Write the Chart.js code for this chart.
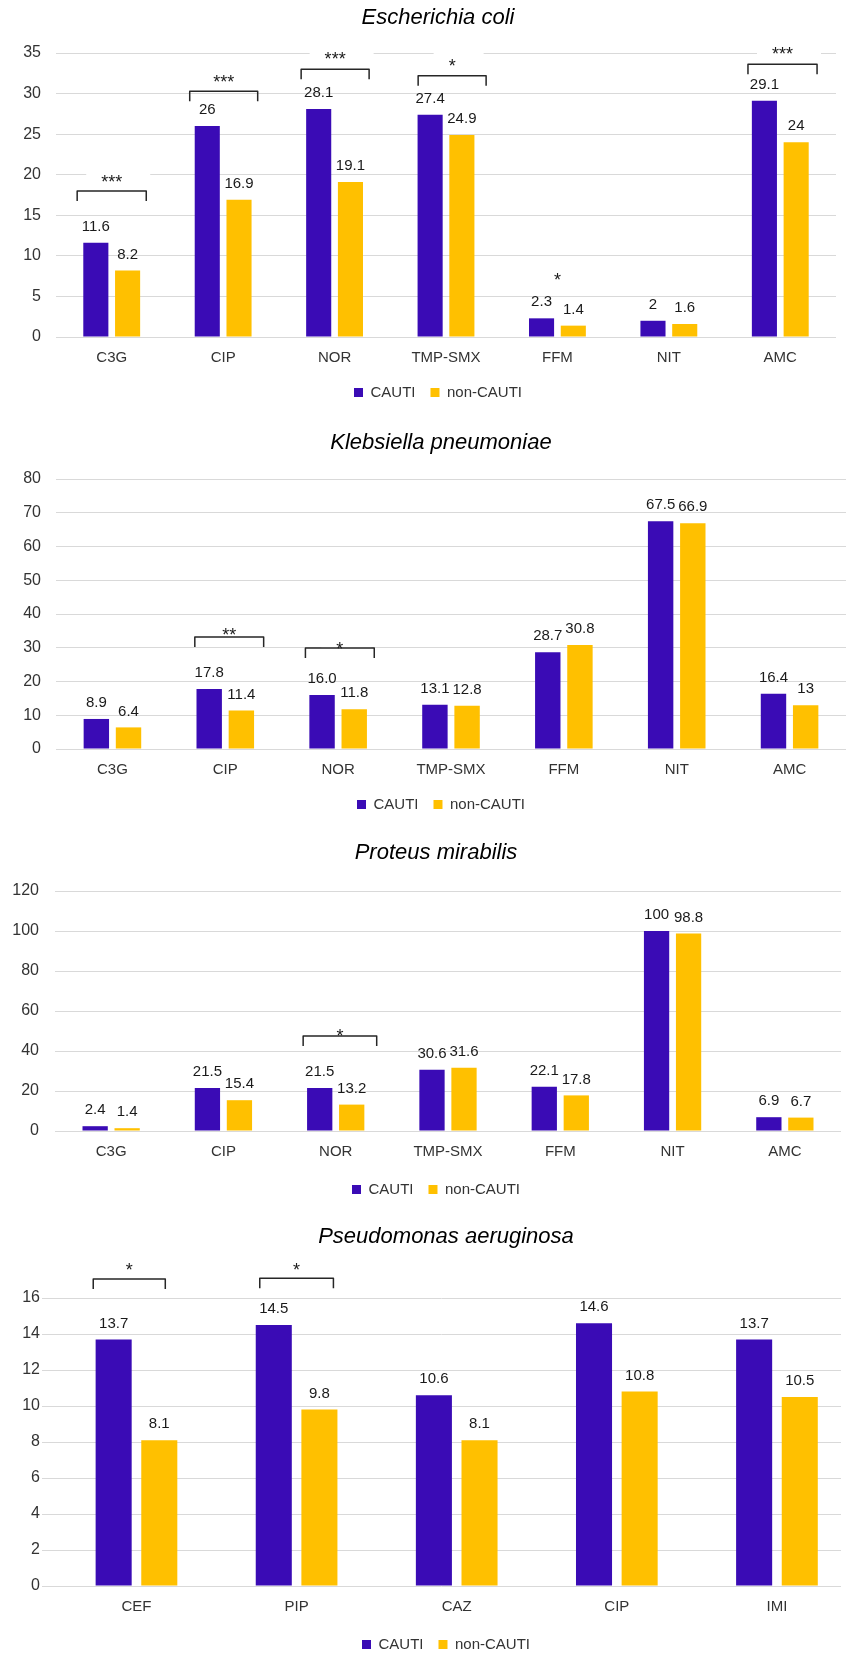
<!DOCTYPE html>
<html>
<head>
<meta charset="utf-8">
<script src="https://cdn.jsdelivr.net/npm/chart.js@4.4.1/dist/chart.umd.min.js"></script>
<style>
  html, body { margin: 0; padding: 0; background: #ffffff; overflow: hidden; width: 846px; height: 1655px; position: relative; }
</style>
</head>
<body>
<script>
const FONT = '"Liberation Sans", Arial, Helvetica, sans-serif';

const seriesNames = ['CAUTI', 'non-CAUTI'];
const seriesColors = ['#3a0bb5', '#ffc000'];

// ---- Escherichia coli ----
const ecTitle = 'Escherichia coli';
const ecCategories = ['C3G', 'CIP', 'NOR', 'TMP-SMX', 'FFM', 'NIT', 'AMC'];
const ecCauti = [11.6, 26, 28.1, 27.4, 2.3, 2, 29.1];
const ecNonCauti = [8.2, 16.9, 19.1, 24.9, 1.4, 1.6, 24];
const ecYTicks = [0, 5, 10, 15, 20, 25, 30, 35];
const ecSignificance = [
  { cat: 0, from: -0.31, to: 0.31, bracket: 18.0, star: 19.7, text: '***' },
  { cat: 1, from: -0.30, to: 0.31, bracket: 30.3, star: 32.0, text: '***' },
  { cat: 2, from: -0.30, to: 0.31, bracket: 33.0, star: 34.75, text: '***' },
  { cat: 3, from: -0.25, to: 0.36, bracket: 32.2, star: 33.9, text: '*' },
  { cat: 4, star: 7.6, text: '*' },
  { cat: 6, from: -0.29, to: 0.33, bracket: 33.6, star: 35.4, text: '***' }
];

// ---- Klebsiella pneumoniae ----
const kpTitle = 'Klebsiella pneumoniae';
const kpCategories = ['C3G', 'CIP', 'NOR', 'TMP-SMX', 'FFM', 'NIT', 'AMC'];
const kpCauti = [8.9, 17.8, 16.0, 13.1, 28.7, 67.5, 16.4];
const kpNonCauti = [6.4, 11.4, 11.8, 12.8, 30.8, 66.9, 13];
const kpYTicks = [0, 10, 20, 30, 40, 50, 60, 70, 80];
const kpSignificance = [
  { cat: 1, from: -0.27, to: 0.34, bracket: 33.2, star: 35.0, text: '**' },
  { cat: 2, from: -0.29, to: 0.32, bracket: 29.9, star: 30.8, text: '*' }
];

// ---- Proteus mirabilis ----
const pmTitle = 'Proteus mirabilis';
const pmCategories = ['C3G', 'CIP', 'NOR', 'TMP-SMX', 'FFM', 'NIT', 'AMC'];
const pmCauti = [2.4, 21.5, 21.5, 30.6, 22.1, 100, 6.9];
const pmNonCauti = [1.4, 15.4, 13.2, 31.6, 17.8, 98.8, 6.7];
const pmYTicks = [0, 20, 40, 60, 80, 100, 120];
const pmSignificance = [
  { cat: 2, from: -0.29, to: 0.365, bracket: 47.5, star: 49.75, text: '*' }
];

// ---- Pseudomonas aeruginosa ----
const paTitle = 'Pseudomonas aeruginosa';
const paCategories = ['CEF', 'PIP', 'CAZ', 'CIP', 'IMI'];
const paCauti = [13.7, 14.5, 10.6, 14.6, 13.7];
const paNonCauti = [8.1, 9.8, 8.1, 10.8, 10.5];
const paYTicks = [0, 2, 4, 6, 8, 10, 12, 14, 16];
const paSignificance = [
  { cat: 0, from: -0.27, to: 0.18, bracket: 17.06, star: 17.83, text: '*' },
  { cat: 1, from: -0.23, to: 0.23, bracket: 17.1, star: 17.83, text: '*' }
];

// ---------------------------------------------------------------
const STAR_FONT = 18;

function fmtValue(v, fmt) {
  return fmt === 'fixed1' ? v.toFixed(1) : String(v);
}

const valueLabelPlugin = {
  id: 'valueLabels',
  afterDatasetsDraw(chart) {
    const ctx = chart.ctx;
    ctx.save();
    ctx.font = '15px ' + FONT;
    ctx.fillStyle = '#1a1a1a';
    ctx.textAlign = 'center';
    ctx.textBaseline = 'middle';
    chart.data.datasets.forEach((ds, di) => {
      const meta = chart.getDatasetMeta(di);
      meta.data.forEach((bar, i) => {
        const v = ds.data[i].y;
        ctx.fillText(fmtValue(v, ds.valueFormat), bar.x, bar.y - 16);
      });
    });
    ctx.restore();
  }
};

function makeSigPlugin(items) {
  function starX(it, xs) {
    if (it.from !== undefined) {
      return (xs.getPixelForValue(it.cat + it.from) + xs.getPixelForValue(it.cat + it.to)) / 2;
    }
    return xs.getPixelForValue(it.cat);
  }
  return {
    id: 'significance',
    beforeDatasetsDraw(chart) {
      const { ctx, scales } = chart;
      ctx.save();
      ctx.font = STAR_FONT + 'px ' + FONT;
      ctx.fillStyle = '#ffffff';
      items.forEach(it => {
        const cx = starX(it, scales.x);
        const cy = scales.y.getPixelForValue(it.star);
        const w = ctx.measureText(it.text).width;
        ctx.fillRect(cx - w / 2 - 15, cy - 10, w + 43, 20);
      });
      ctx.restore();
    },
    afterDatasetsDraw(chart) {
      const { ctx, scales } = chart;
      ctx.save();
      ctx.strokeStyle = '#262626';
      ctx.lineWidth = 1.5;
      ctx.lineJoin = 'round';
      items.forEach(it => {
        if (it.from === undefined) return;
        const x1 = scales.x.getPixelForValue(it.cat + it.from);
        const x2 = scales.x.getPixelForValue(it.cat + it.to);
        const yb = scales.y.getPixelForValue(it.bracket);
        ctx.beginPath();
        ctx.moveTo(x1, yb + 10);
        ctx.lineTo(x1, yb);
        ctx.lineTo(x2, yb);
        ctx.lineTo(x2, yb + 10);
        ctx.stroke();
      });
      ctx.font = STAR_FONT + 'px ' + FONT;
      ctx.fillStyle = '#1a1a1a';
      ctx.textAlign = 'center';
      ctx.textBaseline = 'alphabetic';
      items.forEach(it => {
        const cx = starX(it, scales.x);
        const cy = scales.y.getPixelForValue(it.star);
        ctx.fillText(it.text, cx, cy + 0.58 * STAR_FONT);
      });
      ctx.restore();
    }
  };
}

// o.center: horizontal centre of title and legend (page px)
function makeChart(o) {
  const legendH = 40;
  const height = Math.round(o.areaBottom - o.top + o.xHeight + legendH);
  const extraRight = 2 * o.center - o.right;     // invisible right gutter used for centring
  const width = o.right + extraRight;
  const holder = document.createElement('div');
  holder.style.cssText = 'position:absolute;left:0;top:' + o.top + 'px;width:' + width + 'px;height:' + height + 'px;';
  const canvas = document.createElement('canvas');
  canvas.width = width;
  canvas.height = height;
  holder.appendChild(canvas);
  document.body.appendChild(holder);

  const scales = {
    x: {
      type: 'linear',
      min: o.xMin,
      max: o.xMax,
      offset: false,
      grid: { display: false, drawTicks: false },
      border: { display: false },
      afterBuildTicks: s => { s.ticks = o.categories.map((_, i) => ({ value: i })); },
      afterFit: s => { s.height = o.xHeight; },
      ticks: {
        padding: 12,
        color: '#333333',
        font: { family: FONT, size: 15 },
        maxRotation: 0,
        autoSkip: false,
        callback: v => o.categories[v]
      }
    },
    y: {
      min: 0,
      max: o.yTicks[o.yTicks.length - 1],
      grid: { color: '#d9d9d9', lineWidth: 1, drawTicks: false },
      border: { display: false },
      afterBuildTicks: s => { s.ticks = o.yTicks.map(v => ({ value: v })); },
      afterFit: s => { s.width = o.left; },
      ticks: {
        padding: o.tickPad,
        color: '#333333',
        font: { family: FONT, size: 16 }
      }
    },
    y2: {
      position: 'right',
      display: true,
      grid: { display: false, drawTicks: false },
      border: { display: false },
      ticks: { display: false },
      afterFit: s => { s.width = extraRight; }
    }
  };

  return new Chart(canvas, {
    type: 'bar',
    data: {
      datasets: [
        {
          label: seriesNames[0],
          data: o.cauti.map((v, i) => ({ x: i, y: v })),
          backgroundColor: seriesColors[0],
          borderWidth: 0,
          categoryPercentage: 0.57,
          barPercentage: 0.79,
          valueFormat: o.formats[0]
        },
        {
          label: seriesNames[1],
          data: o.nonCauti.map((v, i) => ({ x: i, y: v })),
          backgroundColor: seriesColors[1],
          borderWidth: 0,
          categoryPercentage: 0.57,
          barPercentage: 0.79,
          valueFormat: o.formats[1]
        }
      ]
    },
    options: {
      responsive: false,
      animation: false,
      events: [],
      layout: { padding: { left: 0, right: 0, top: 0, bottom: 0 } },
      scales: scales,
      plugins: {
        title: {
          display: true,
          text: o.title,
          color: '#000000',
          font: { family: FONT, size: 22, style: 'italic', weight: 'normal', lineHeight: 1.2 },
          padding: { top: 0, bottom: o.areaTop - o.top - 26.4 }
        },
        legend: {
          position: 'bottom',
          labels: {
            boxWidth: 9,
            boxHeight: 9,
            padding: 15,
            color: '#333333',
            font: { family: FONT, size: 15 }
          }
        },
        tooltip: { enabled: false }
      }
    },
    plugins: [valueLabelPlugin, makeSigPlugin(o.significance)]
  });
}

makeChart({
  title: ecTitle, categories: ecCategories, cauti: ecCauti, nonCauti: ecNonCauti, yTicks: ecYTicks,
  significance: ecSignificance, formats: ['general', 'general'],
  top: 5, areaTop: 53, areaBottom: 337, xHeight: 33, left: 56, right: 836, center: 438,
  tickPad: 15, xMin: -0.5, xMax: 6.5
});

makeChart({
  title: kpTitle, categories: kpCategories, cauti: kpCauti, nonCauti: kpNonCauti, yTicks: kpYTicks,
  significance: kpSignificance, formats: ['fixed1', 'general'],
  top: 430, areaTop: 479, areaBottom: 749, xHeight: 33, left: 56, right: 846, center: 441,
  tickPad: 15, xMin: -0.5, xMax: 6.5
});

makeChart({
  title: pmTitle, categories: pmCategories, cauti: pmCauti, nonCauti: pmNonCauti, yTicks: pmYTicks,
  significance: pmSignificance, formats: ['general', 'general'],
  top: 840, areaTop: 891, areaBottom: 1131, xHeight: 36, left: 55, right: 841, center: 436,
  tickPad: 16, xMin: -0.5, xMax: 6.5
});

makeChart({
  title: paTitle, categories: paCategories, cauti: paCauti, nonCauti: paNonCauti, yTicks: paYTicks,
  significance: paSignificance, formats: ['general', 'general'],
  top: 1224, areaTop: 1298, areaBottom: 1586, xHeight: 36, left: 42, right: 841, center: 446,
  tickPad: 2, xMin: -0.59, xMax: 4.40
});
</script>
</body>
</html>
